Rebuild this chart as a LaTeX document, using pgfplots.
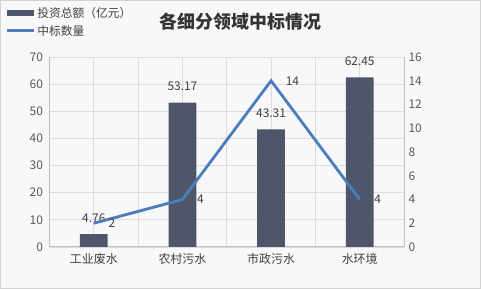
\documentclass[border=0pt]{standalone}
\usepackage{pgfplots}
\pgfplotsset{compat=1.18}
\usepackage{fontspec}
\setmainfont{Noto Sans CJK SC}
\definecolor{bgcol}{RGB}{248,247,250}
\definecolor{barcol}{RGB}{79,86,106}
\definecolor{linecol}{RGB}{74,126,187}
\definecolor{gridcol}{RGB}{220,219,223}
\definecolor{axcol}{RGB}{191,191,191}
\definecolor{txtcol}{RGB}{89,89,89}
\definecolor{lblcol}{RGB}{64,64,64}
\begin{document}
\begin{tikzpicture}
\useasboundingbox (0,0) rectangle (481bp,289bp);
\fill[bgcol] (0,0) rectangle (481bp,289bp);
\draw[axcol!70, line width=1bp] (0.5bp,0.5bp) rectangle (480.5bp,288.5bp);
\node[font=\fontsize{18}{21}\selectfont\bfseries, text=lblcol!80!black] at (240.5bp,267bp) {各细分领域中标情况};
\begin{axis}[
  at={(49.5bp,42bp)}, anchor=south west,
  scale only axis, width=354.5bp, height=190bp,
  xmin=-0.5, xmax=3.5, ymin=0, ymax=70,
  xtick={0,1,2,3}, xticklabels={工业废水,农村污水,市政污水,水环境},
  minor xtick={-0.5,0.5,1.5,2.5,3.5},
  ytick={0,10,...,70},
  xmajorgrids, xminorgrids, ymajorgrids,
  grid style={gridcol, line width=0.8bp},
  minor grid style={gridcol, line width=0.8bp},
  axis x line*=bottom, axis y line*=left,
  axis line style={axcol, line width=1bp, -},
  major tick length=0pt, minor tick length=0pt,
  /pgf/number format/assume math mode=true,
  ticklabel style={font=\fontsize{12}{14}\selectfont, text=txtcol},
  xticklabel style={font=\fontsize{12}{14}\selectfont, text=lblcol, yshift=-3bp},
  yticklabel style={xshift=-3bp},
  legend style={at={(-0.1227,1.268)}, anchor=north west, draw=none, fill=none,
    inner sep=0pt, outer sep=0pt, row sep=3bp,
    font=\fontsize{11.8}{13}\selectfont, text=lblcol,
    nodes={inner sep=1.5bp}},
  legend cell align=left,
]
\addplot[ybar, bar width=0.3125, fill=barcol, draw=none,
  legend image code/.code={\fill[barcol] (0bp,-3bp) rectangle (27bp,3bp);},
  nodes near coords,
  nodes near coords style={/pgf/number format/fixed, /pgf/number format/fixed zerofill, /pgf/number format/precision=2, /pgf/number format/assume math mode=true},
  every node near coord/.append style={font=\fontsize{12}{14}\selectfont, text=lblcol, anchor=center, yshift=16bp}]
  coordinates {(0,4.76) (1,53.17) (2,43.31) (3,62.45)};
\addlegendentry{投资总额（亿元）}
\addlegendimage{linecol, line width=2.8bp, legend image code/.code={\draw[linecol, line width=2.8bp] (0bp,0bp) -- (27bp,0bp);}}
\addlegendentry{中标数量}
\end{axis}
\begin{axis}[
  at={(49.5bp,42bp)}, anchor=south west,
  scale only axis, width=354.5bp, height=190bp,
  xmin=-0.5, xmax=3.5, ymin=0, ymax=16,
  ytick={0,2,...,16},
  hide x axis,
  axis y line*=right,
  axis line style={axcol, line width=1bp, -},
  major tick length=0pt,
  /pgf/number format/assume math mode=true,
  ticklabel style={font=\fontsize{12}{14}\selectfont, text=txtcol},
  yticklabel style={xshift=1bp},
]
\addplot[linecol, line width=2.8bp, mark=none,
  nodes near coords,
  nodes near coords style={/pgf/number format/assume math mode=true},
  every node near coord/.append style={font=\fontsize{12}{14}\selectfont, text=lblcol, anchor=west, xshift=10bp, yshift=0bp}]
  coordinates {(0,2) (1,4) (2,14) (3,4)};
\end{axis}
\end{tikzpicture}
\end{document}
